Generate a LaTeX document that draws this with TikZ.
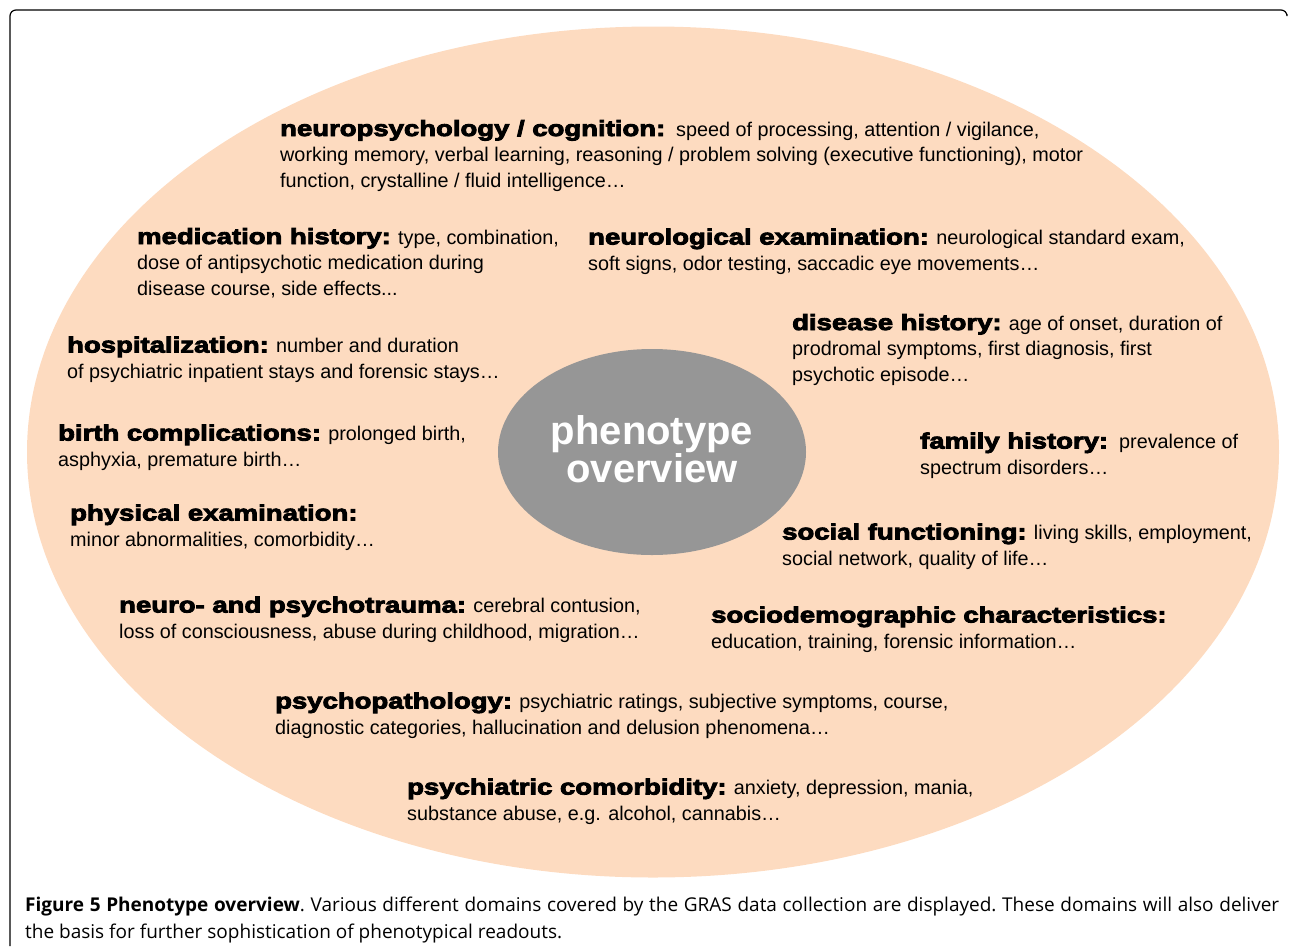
\documentclass[tikz,border=0pt]{standalone}
\usepackage{fontspec}
\usetikzlibrary{shapes.geometric}
\setmainfont{Liberation Sans}
\newfontfamily\headfont{Liberation Sans}[UprightFont={* Bold},FakeBold=4,FakeStretch=1.25]
\newfontfamily\capfont{Open Sans}
\definecolor{peach}{HTML}{FDDBC0}
\definecolor{coregray}{HTML}{969696}
\newcommand{\dom}[1]{{\fontsize{22}{25}\headfont #1}}
\begin{document}
\begin{tikzpicture}[x=1pt,y=-1pt]
  \tikzstyle{domainbox}=[anchor=base west,inner sep=0pt,align=left,font=\fontsize{19.8}{25.5}\selectfont];

  \useasboundingbox (0,0) rectangle (1290,948);

  % frame
  \draw [line width=1.2, rounded corners=6] (1287,14) -- (1287,10) -- (10,10) -- (10,946);

  % ellipses
  \node (field) [ellipse, fill=peach, inner sep=0pt, minimum width=1252pt, minimum height=851pt] at (653,452) {};
  \node (core) [ellipse, fill=coregray, inner sep=0pt, minimum width=308pt, minimum height=206pt] at (652,452) {};
  \node (coretext) [text=white, align=center, font=\fontsize{40}{37}\bfseries] at (652,449) {phenotype\\overview};

  % domains (placed at the baseline of the last line)
  \node (neuropsy) [domainbox] at (280,187) {\dom{neuropsychology / cognition:}\ \ speed of processing, attention / vigilance,\\
    working memory, verbal learning, reasoning / problem solving (executive functioning), motor\\
    function, crystalline / fluid intelligence…};
  \node (medic) [domainbox] at (137,295) {\dom{medication history:} type, combination,\\
    dose of antipsychotic medication during\\
    disease course, side effects...};
  \node (neurol) [domainbox] at (588,270) {\dom{neurological examination:} neurological standard exam,\\
    soft signs, odor testing, saccadic eye movements…};
  \node (disease) [domainbox] at (792,381) {\dom{disease history:} age of onset, duration of\\
    prodromal symptoms, first diagnosis, first\\
    psychotic episode…};
  \node (hospital) [domainbox] at (67,378) {\dom{hospitalization:} number and duration\\
    of psychiatric inpatient stays and forensic stays…};
  \node (birth) [domainbox] at (58,466) {\dom{birth complications:} prolonged birth,\\
    asphyxia, premature birth…};
  \node (family) [domainbox] at (920,474) {\dom{family history:}\ \ prevalence of\\
    spectrum disorders…};
  \node (physical) [domainbox] at (70,546) {\dom{physical examination:}\\
    minor abnormalities, comorbidity…};
  \node (social) [domainbox] at (782,565) {\dom{social functioning:} living skills, employment,\\
    social network, quality of life…};
  \node (trauma) [domainbox] at (119,638) {\dom{neuro- and psychotrauma:} cerebral contusion,\\
    loss of consciousness, abuse during childhood, migration…};
  \node (socdem) [domainbox] at (711,648) {\dom{sociodemographic characteristics:}\\
    education, training, forensic information…};
  \node (psypath) [domainbox] at (275,734) {\dom{psychopathology:} psychiatric ratings, subjective symptoms, course,\\
    diagnostic categories, hallucination and delusion phenomena…};
  \node (comorb) [domainbox] at (407,820) {\dom{psychiatric comorbidity:} anxiety, depression, mania,\\
    substance abuse, e.g. alcohol, cannabis…};

  % caption
  \node (caption) [anchor=base west, inner sep=0pt, text width=1254pt, align=justify,
    font=\fontsize{19}{27}\capfont\frenchspacing] at (25,911)
    {{\bfseries Figure 5 Phenotype overview}. Various different domains covered by the GRAS data collection are displayed. These domains will also deliver\linebreak
    the basis for further sophistication of phenotypical readouts.};
\end{tikzpicture}
\end{document}
